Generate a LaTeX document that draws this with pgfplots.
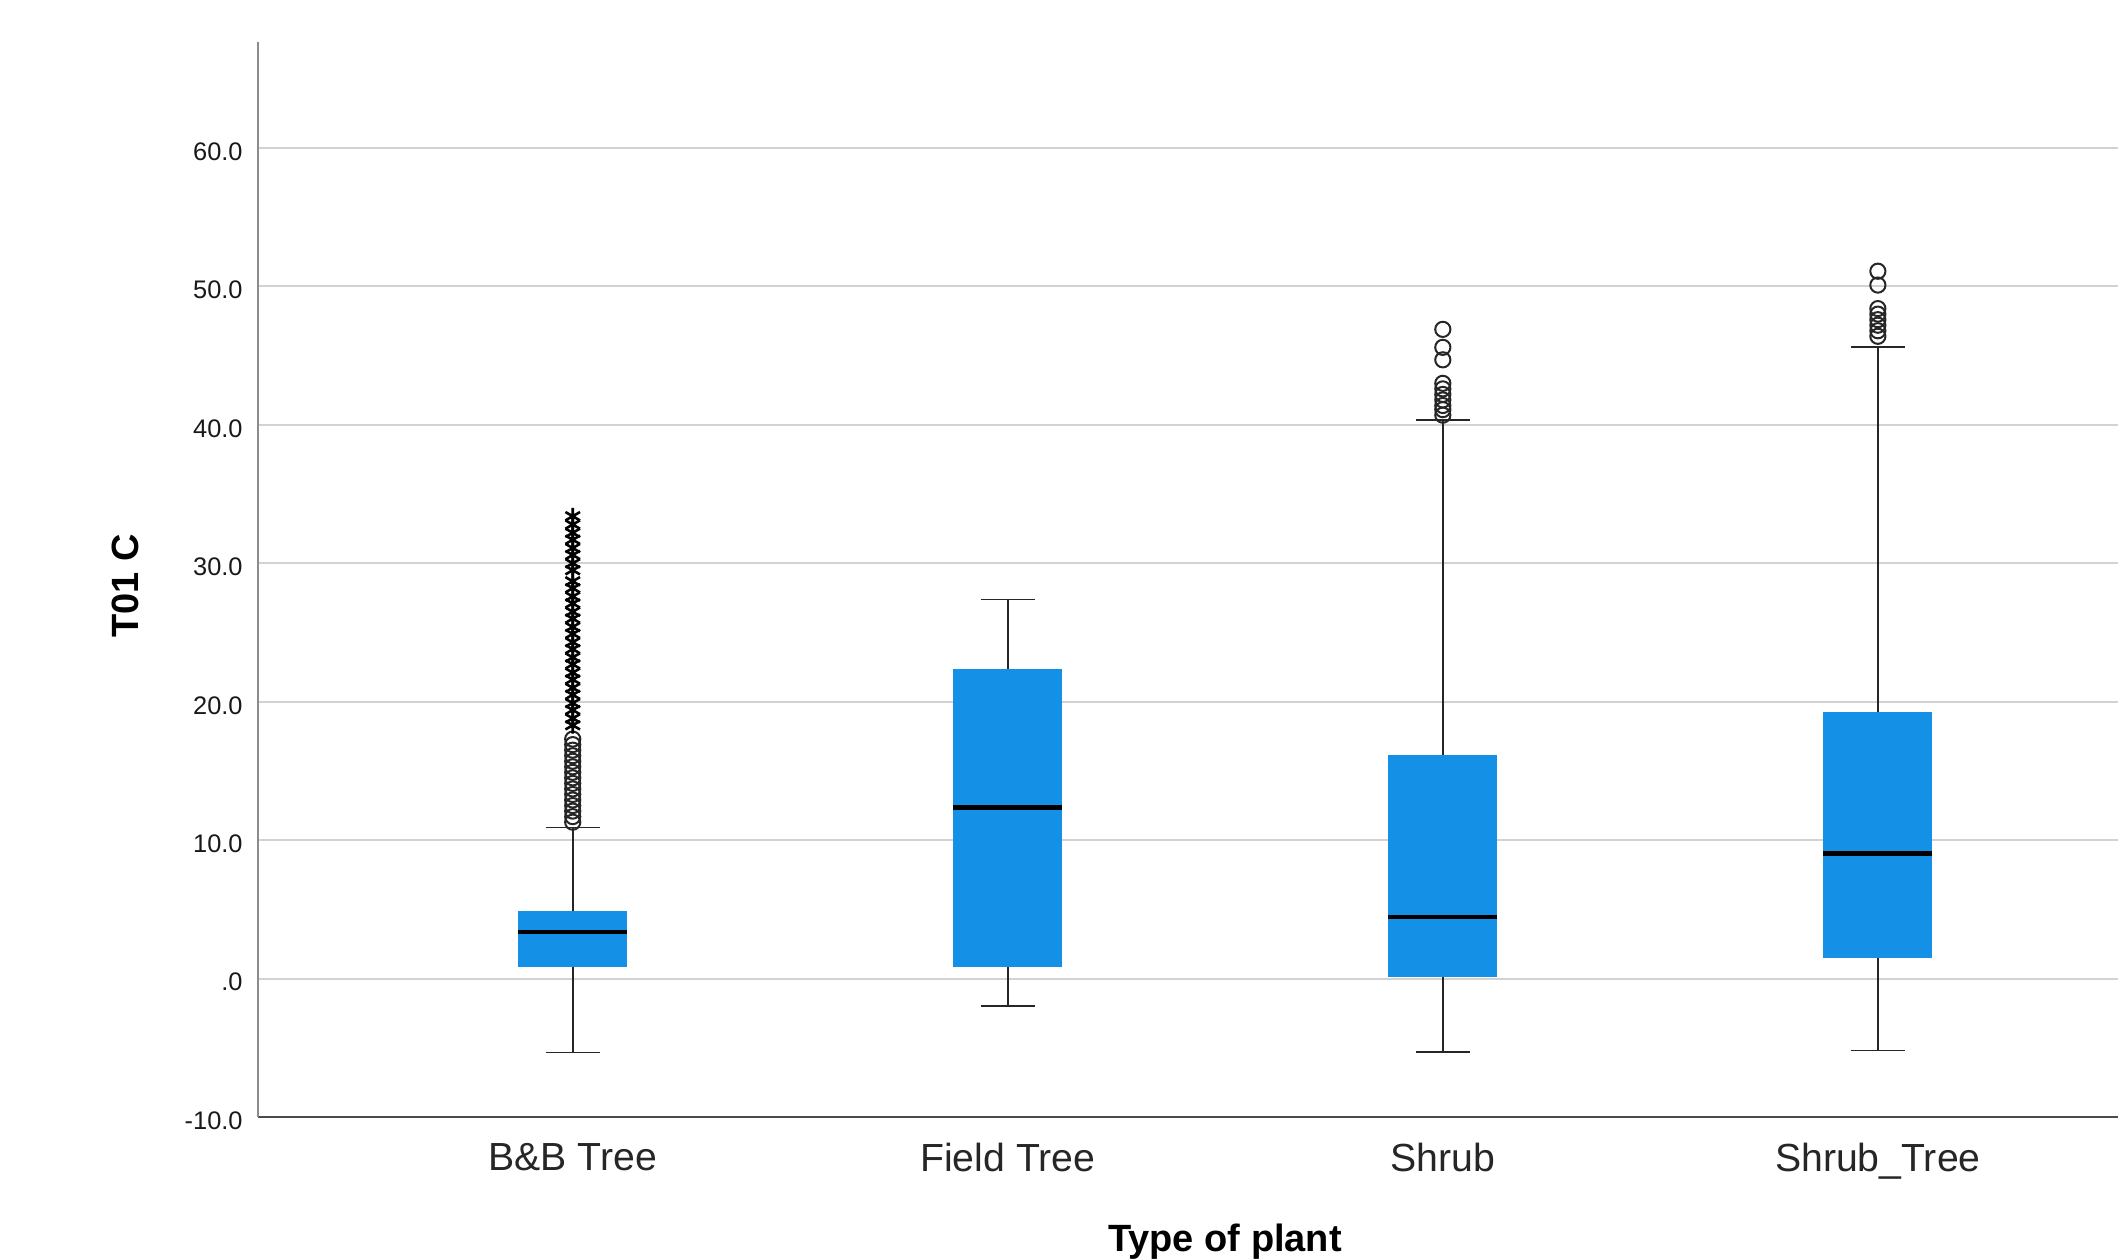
\documentclass[border=0pt]{standalone}
\usepackage{fontspec}
\setmainfont{Liberation Sans}
\usepackage{pgfplots}
\pgfplotsset{compat=1.18}
\usepgfplotslibrary{statistics}
\definecolor{boxblue}{HTML}{1491E6}
\definecolor{gridgray}{HTML}{D2D2D2}
\begin{document}
\begin{tikzpicture}
\useasboundingbox (-129pt,-71pt) rectangle (930pt,558.5pt);
\begin{axis}[
  at={(0,0)}, anchor=south west,
  scale only axis,
  width=930pt, height=537.5pt,
  xmin=-0.7234, xmax=3.552,
  ymin=-10, ymax=67.66,
  axis x line*=bottom, axis y line*=left,
  x axis line style={-, draw=black!70, line width=1pt},
  y axis line style={-, draw=black!45, line width=1.3pt},
  xtick={0,1,2,3},
  xticklabels={B\&B Tree, Field Tree, Shrub, Shrub\_Tree},
  ytick={-10,0,10,20,30,40,50,60},
  yticklabels={-10.0,.0,10.0,20.0,30.0,40.0,50.0,60.0},
  major tick length=0pt,
  ymajorgrids,
  grid style={draw=gridgray, line width=1pt},
  /pgf/number format/assume math mode=true,
  xticklabel style={font=\fontsize{19.6}{22}\selectfont, inner sep=0pt, yshift=-13pt, text=black!85},
  yticklabel style={font=\fontsize{12.7}{15}\selectfont, inner sep=0pt, xshift=-7.5pt, yshift=-1.8pt, text=black!90},
  xlabel={Type of plant},
  ylabel={T01 C},
  xlabel style={font=\fontsize{19}{22}\selectfont\bfseries, at={(axis description cs:0.5199,-0.1157)}, anchor=center},
  ylabel style={font=\fontsize{19}{22}\selectfont\bfseries, at={(axis description cs:-0.0715,0.494)}, anchor=center},
  boxplot/draw direction=y,
  boxplot/box extend=0.25,
  boxplot/whisker extend=0.125,
  boxplot/every box/.style={fill=boxblue, draw=none},
  boxplot/every whisker/.style={draw=black!85, line width=0.8pt},
  boxplot/every median/.style={draw=black, line width=2.2pt},
  clip=false,
]
% B&B Tree
\addplot+[boxplot prepared={draw position=0, lower whisker=-5.33, lower quartile=0.82, median=3.35, upper quartile=4.91, upper whisker=10.9}, mark=none, draw=black] coordinates {};
% Field Tree
\addplot+[boxplot prepared={draw position=1, lower whisker=-2.0, lower quartile=0.83, median=12.35, upper quartile=22.4, upper whisker=27.38}, mark=none, draw=black] coordinates {};
% Shrub
\addplot+[boxplot prepared={draw position=2, lower whisker=-5.3, lower quartile=0.15, median=4.44, upper quartile=16.15, upper whisker=40.36}, mark=none, draw=black] coordinates {};
% Shrub_Tree
\addplot+[boxplot prepared={draw position=3, lower whisker=-5.2, lower quartile=1.51, median=9.03, upper quartile=19.28, upper whisker=45.64}, mark=none, draw=black] coordinates {};
% circle outliers
\addplot[only marks, mark=o, mark size=3.8pt, mark options={draw=black!85, line width=1pt}] coordinates {
 (0,11.3) (0,11.7) (0,12.1) (0,12.5) (0,12.9) (0,13.3) (0,13.7) (0,14.1) (0,14.5) (0,14.9) (0,15.3) (0,15.7) (0,16.1) (0,16.5) (0,16.9) (0,17.3)
 (2,40.7) (2,41.1) (2,41.4) (2,41.8) (2,42.2) (2,42.6) (2,43.0) (2,44.7) (2,45.6) (2,46.9)
 (3,46.4) (3,46.8) (3,47.2) (3,47.6) (3,48.0) (3,48.4) (3,50.1) (3,51.1)
};
% extreme outliers (stars)
\addplot[only marks, mark=asterisk, mark size=4.2pt, mark options={draw=black, line width=1.3pt}] coordinates {
 (0,18.3) (0,18.8) (0,19.4) (0,19.9) (0,20.5) (0,21.0) (0,21.6) (0,22.1) (0,22.7) (0,23.2) (0,23.8) (0,24.3) (0,24.9) (0,25.4) (0,26.0) (0,26.5) (0,27.1) (0,27.6) (0,28.2) (0,28.7)
 (0,29.5) (0,30.0) (0,30.6) (0,31.1) (0,31.7) (0,32.2) (0,32.8) (0,33.4)
};
\end{axis}
\end{tikzpicture}
\end{document}
